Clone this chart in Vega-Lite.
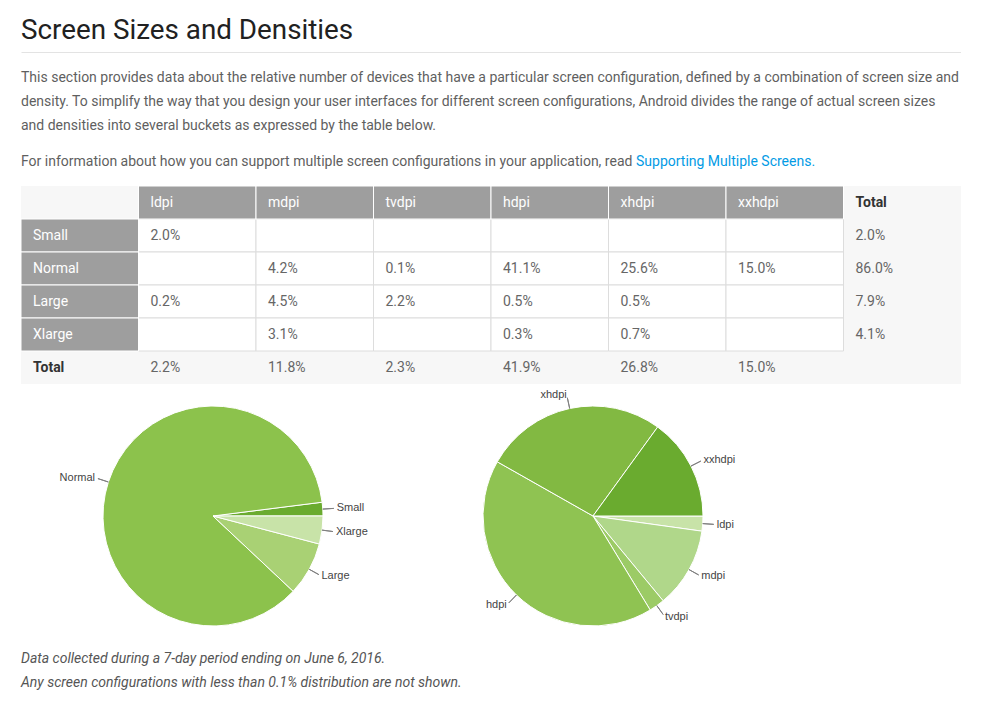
{
  "$schema": "https://vega.github.io/schema/vega-lite/v6.json",
  "background": "white",
  "padding": {"left": 20, "top": 0, "right": 0, "bottom": 0},
  "spacing": 0,
  "config": {"view": {"stroke": null}, "font": "Roboto"},
  "datasets": {
    "intro": [
      {"line": 1, "text": "This section provides data about the relative number of devices that have a particular screen configuration, defined by a combination of screen size and"},
      {"line": 2, "text": "density. To simplify the way that you design your user interfaces for different screen configurations, Android divides the range of actual screen sizes"},
      {"line": 3, "text": "and densities into several buckets as expressed by the table below."}
    ],
    "cells": [
      {"size": "Small", "density": "ldpi", "share": 0.020},
      {"size": "Small", "density": "mdpi", "share": null},
      {"size": "Small", "density": "tvdpi", "share": null},
      {"size": "Small", "density": "hdpi", "share": null},
      {"size": "Small", "density": "xhdpi", "share": null},
      {"size": "Small", "density": "xxhdpi", "share": null},
      {"size": "Normal", "density": "ldpi", "share": null},
      {"size": "Normal", "density": "mdpi", "share": 0.042},
      {"size": "Normal", "density": "tvdpi", "share": 0.001},
      {"size": "Normal", "density": "hdpi", "share": 0.411},
      {"size": "Normal", "density": "xhdpi", "share": 0.256},
      {"size": "Normal", "density": "xxhdpi", "share": 0.150},
      {"size": "Large", "density": "ldpi", "share": 0.002},
      {"size": "Large", "density": "mdpi", "share": 0.045},
      {"size": "Large", "density": "tvdpi", "share": 0.022},
      {"size": "Large", "density": "hdpi", "share": 0.005},
      {"size": "Large", "density": "xhdpi", "share": 0.005},
      {"size": "Large", "density": "xxhdpi", "share": null},
      {"size": "Xlarge", "density": "ldpi", "share": null},
      {"size": "Xlarge", "density": "mdpi", "share": 0.031},
      {"size": "Xlarge", "density": "tvdpi", "share": null},
      {"size": "Xlarge", "density": "hdpi", "share": 0.003},
      {"size": "Xlarge", "density": "xhdpi", "share": 0.007},
      {"size": "Xlarge", "density": "xxhdpi", "share": null}
    ],
    "sizeTotals": [
      {"size": "Small", "share": 0.020},
      {"size": "Normal", "share": 0.860},
      {"size": "Large", "share": 0.079},
      {"size": "Xlarge", "share": 0.041}
    ],
    "densityTotals": [
      {"density": "ldpi", "share": 0.022},
      {"density": "mdpi", "share": 0.118},
      {"density": "tvdpi", "share": 0.023},
      {"density": "hdpi", "share": 0.419},
      {"density": "xhdpi", "share": 0.268},
      {"density": "xxhdpi", "share": 0.150}
    ],
    "notes": [
      {"line": 1, "text": "Data collected during a 7-day period ending on June 6, 2016."},
      {"line": 2, "text": "Any screen configurations with less than 0.1% distribution are not shown."}
    ]
  },
  "vconcat": [
    {
      "width": 940,
      "height": 52,
      "data": {"values": [{"heading": "Screen Sizes and Densities"}]},
      "mark": {"type": "text", "align": "left", "baseline": "alphabetic", "dy": 13, "fontSize": 27.8, "fontWeight": 400, "color": "#212121"},
      "encoding": {
        "x": {"datum": 0, "type": "quantitative", "scale": {"domain": [0, 1]}, "axis": {"orient": "bottom", "domain": true, "domainColor": "#e3e3e3", "ticks": false, "labels": false, "grid": false, "title": null}},
        "text": {"field": "heading"}
      }
    },
    {
      "width": 940,
      "height": 87,
      "data": {"name": "intro"},
      "mark": {"type": "text", "align": "left", "baseline": "alphabetic", "fontSize": 14, "color": "#5f5f5f"},
      "encoding": {
        "x": {"value": 0},
        "y": {"field": "line", "type": "ordinal", "axis": null, "scale": {"type": "point", "padding": 0, "range": [30, 78]}},
        "text": {"field": "text"}
      }
    },
    {
      "width": 940,
      "height": 46,
      "data": {"values": [{"text": "For information about how you can support multiple screen configurations in your application, read", "link": "Supporting Multiple Screens."}]},
      "layer": [
        {
          "mark": {"type": "text", "align": "left", "baseline": "alphabetic", "dy": 4, "fontSize": 14, "color": "#5f5f5f"},
          "encoding": {"x": {"value": 0}, "text": {"field": "text"}}
        },
        {
          "mark": {"type": "text", "align": "left", "baseline": "alphabetic", "dy": 4, "dx": 615, "fontSize": 14, "color": "#039be5"},
          "encoding": {"x": {"value": 0}, "text": {"field": "link"}}
        }
      ]
    },
    {
      "width": 940,
      "height": 198,
      "view": {"fill": "#f7f7f7"},
      "layer": [
        {
          "data": {"name": "cells"},
          "mark": {"type": "rect", "fill": "white", "stroke": "#dddddd", "strokeWidth": 1},
          "encoding": {
            "x": {"field": "density", "type": "nominal", "axis": null, "scale": {"type": "band", "domain": ["_size", "ldpi", "mdpi", "tvdpi", "hdpi", "xhdpi", "xxhdpi", "Total"], "paddingInner": 0, "paddingOuter": 0}},
            "y": {"field": "size", "type": "nominal", "axis": null, "scale": {"type": "band", "domain": ["_head", "Small", "Normal", "Large", "Xlarge", "Total"], "paddingInner": 0, "paddingOuter": 0}}
          }
        },
        {
          "data": {"name": "densityTotals"},
          "mark": {"type": "rect", "fill": "#9e9e9e", "stroke": "white", "strokeWidth": 1},
          "encoding": {
            "x": {"field": "density", "type": "nominal", "axis": null, "scale": {"type": "band", "domain": ["_size", "ldpi", "mdpi", "tvdpi", "hdpi", "xhdpi", "xxhdpi", "Total"], "paddingInner": 0, "paddingOuter": 0}},
            "y": {"datum": "_head", "type": "nominal", "axis": null, "scale": {"type": "band", "domain": ["_head", "Small", "Normal", "Large", "Xlarge", "Total"], "paddingInner": 0, "paddingOuter": 0}}
          }
        },
        {
          "data": {"name": "sizeTotals"},
          "mark": {"type": "rect", "fill": "#9e9e9e", "stroke": "white", "strokeWidth": 1},
          "encoding": {
            "x": {"datum": "_size", "type": "nominal", "axis": null, "scale": {"type": "band", "domain": ["_size", "ldpi", "mdpi", "tvdpi", "hdpi", "xhdpi", "xxhdpi", "Total"], "paddingInner": 0, "paddingOuter": 0}},
            "y": {"field": "size", "type": "nominal", "axis": null, "scale": {"type": "band", "domain": ["_head", "Small", "Normal", "Large", "Xlarge", "Total"], "paddingInner": 0, "paddingOuter": 0}}
          }
        },
        {
          "data": {"name": "densityTotals"},
          "mark": {"type": "text", "align": "left", "baseline": "middle", "dx": 12, "fontSize": 14, "color": "white"},
          "encoding": {
            "x": {"field": "density", "type": "nominal", "bandPosition": 0, "axis": null, "scale": {"type": "band", "domain": ["_size", "ldpi", "mdpi", "tvdpi", "hdpi", "xhdpi", "xxhdpi", "Total"], "paddingInner": 0, "paddingOuter": 0}},
            "y": {"datum": "_head", "type": "nominal", "axis": null, "scale": {"type": "band", "domain": ["_head", "Small", "Normal", "Large", "Xlarge", "Total"], "paddingInner": 0, "paddingOuter": 0}},
            "text": {"field": "density"}
          }
        },
        {
          "data": {"name": "sizeTotals"},
          "mark": {"type": "text", "align": "left", "baseline": "middle", "dx": 12, "fontSize": 14, "color": "white"},
          "encoding": {
            "x": {"datum": "_size", "type": "nominal", "bandPosition": 0, "axis": null, "scale": {"type": "band", "domain": ["_size", "ldpi", "mdpi", "tvdpi", "hdpi", "xhdpi", "xxhdpi", "Total"], "paddingInner": 0, "paddingOuter": 0}},
            "y": {"field": "size", "type": "nominal", "axis": null, "scale": {"type": "band", "domain": ["_head", "Small", "Normal", "Large", "Xlarge", "Total"], "paddingInner": 0, "paddingOuter": 0}},
            "text": {"field": "size"}
          }
        },
        {
          "data": {"name": "cells"},
          "transform": [{"filter": "isValid(datum.share)"}],
          "mark": {"type": "text", "align": "left", "baseline": "middle", "dx": 12, "fontSize": 14, "color": "#666666"},
          "encoding": {
            "x": {"field": "density", "type": "nominal", "bandPosition": 0, "axis": null, "scale": {"type": "band", "domain": ["_size", "ldpi", "mdpi", "tvdpi", "hdpi", "xhdpi", "xxhdpi", "Total"], "paddingInner": 0, "paddingOuter": 0}},
            "y": {"field": "size", "type": "nominal", "axis": null, "scale": {"type": "band", "domain": ["_head", "Small", "Normal", "Large", "Xlarge", "Total"], "paddingInner": 0, "paddingOuter": 0}},
            "text": {"field": "share", "type": "quantitative", "format": ".1%"}
          }
        },
        {
          "data": {"name": "sizeTotals"},
          "mark": {"type": "text", "align": "left", "baseline": "middle", "dx": 12, "fontSize": 14, "color": "#666666"},
          "encoding": {
            "x": {"datum": "Total", "type": "nominal", "bandPosition": 0, "axis": null, "scale": {"type": "band", "domain": ["_size", "ldpi", "mdpi", "tvdpi", "hdpi", "xhdpi", "xxhdpi", "Total"], "paddingInner": 0, "paddingOuter": 0}},
            "y": {"field": "size", "type": "nominal", "axis": null, "scale": {"type": "band", "domain": ["_head", "Small", "Normal", "Large", "Xlarge", "Total"], "paddingInner": 0, "paddingOuter": 0}},
            "text": {"field": "share", "type": "quantitative", "format": ".1%"}
          }
        },
        {
          "data": {"name": "densityTotals"},
          "mark": {"type": "text", "align": "left", "baseline": "middle", "dx": 12, "fontSize": 14, "color": "#666666"},
          "encoding": {
            "x": {"field": "density", "type": "nominal", "bandPosition": 0, "axis": null, "scale": {"type": "band", "domain": ["_size", "ldpi", "mdpi", "tvdpi", "hdpi", "xhdpi", "xxhdpi", "Total"], "paddingInner": 0, "paddingOuter": 0}},
            "y": {"datum": "Total", "type": "nominal", "axis": null, "scale": {"type": "band", "domain": ["_head", "Small", "Normal", "Large", "Xlarge", "Total"], "paddingInner": 0, "paddingOuter": 0}},
            "text": {"field": "share", "type": "quantitative", "format": ".1%"}
          }
        },
        {
          "data": {"values": [{"label": "Total"}]},
          "mark": {"type": "text", "align": "left", "baseline": "middle", "dx": 12, "fontSize": 14, "fontWeight": "bold", "color": "#333333"},
          "encoding": {
            "x": {"datum": "Total", "type": "nominal", "bandPosition": 0, "axis": null, "scale": {"type": "band", "domain": ["_size", "ldpi", "mdpi", "tvdpi", "hdpi", "xhdpi", "xxhdpi", "Total"], "paddingInner": 0, "paddingOuter": 0}},
            "y": {"datum": "_head", "type": "nominal", "axis": null, "scale": {"type": "band", "domain": ["_head", "Small", "Normal", "Large", "Xlarge", "Total"], "paddingInner": 0, "paddingOuter": 0}},
            "text": {"field": "label"}
          }
        },
        {
          "data": {"values": [{"label": "Total"}]},
          "mark": {"type": "text", "align": "left", "baseline": "middle", "dx": 12, "fontSize": 14, "fontWeight": "bold", "color": "#333333"},
          "encoding": {
            "x": {"datum": "_size", "type": "nominal", "bandPosition": 0, "axis": null, "scale": {"type": "band", "domain": ["_size", "ldpi", "mdpi", "tvdpi", "hdpi", "xhdpi", "xxhdpi", "Total"], "paddingInner": 0, "paddingOuter": 0}},
            "y": {"datum": "Total", "type": "nominal", "axis": null, "scale": {"type": "band", "domain": ["_head", "Small", "Normal", "Large", "Xlarge", "Total"], "paddingInner": 0, "paddingOuter": 0}},
            "text": {"field": "label"}
          }
        }
      ]
    },
    {
      "spacing": 0,
      "resolve": {"scale": {"theta": "independent", "color": "independent"}},
      "hconcat": [
        {
          "width": 384,
          "height": 264,
          "data": {"name": "sizeTotals"},
          "transform": [{"stack": "share", "groupby": [], "as": ["s0", "s1"]}],
          "layer": [
            {
              "mark": {"type": "arc", "outerRadius": 110, "stroke": "white", "strokeWidth": 1},
              "encoding": {
                "theta": {"field": "s0", "type": "quantitative", "stack": null, "scale": {"domain": [0, 1], "range": [1.5708, -4.7124]}},
                "theta2": {"field": "s1"},
                "color": {"field": "size", "type": "nominal", "legend": null, "scale": {"domain": ["Small", "Normal", "Large", "Xlarge"], "range": ["#6aab2f", "#8cc24c", "#a9d174", "#c8e3a8"]}}
              }
            },
            {
              "transform": [{"fold": ["s0", "s1"], "as": ["edge", "angle"]}, {"aggregate": [{"op": "mean", "field": "angle", "as": "mid"}], "groupby": ["size"]}],
              "mark": {"type": "arc", "innerRadius": 110, "outerRadius": 121, "filled": false, "stroke": "#808080", "strokeWidth": 1},
              "encoding": {
                "theta": {"field": "mid", "type": "quantitative", "stack": null},
                "theta2": {"field": "mid"}
              }
            },
            {
              "transform": [{"fold": ["s0", "s1"], "as": ["edge", "angle"]}, {"aggregate": [{"op": "mean", "field": "angle", "as": "mid"}], "groupby": ["size"]}, {"filter": "datum.mid > 0.25 && datum.mid < 0.75"}],
              "mark": {"type": "text", "radius": 124, "align": "right", "baseline": "middle", "font": "Liberation Sans", "fontSize": 11, "color": "#444444"},
              "encoding": {
                "theta": {"field": "mid", "type": "quantitative", "stack": null},
                "text": {"field": "size"}
              }
            },
            {
              "transform": [{"fold": ["s0", "s1"], "as": ["edge", "angle"]}, {"aggregate": [{"op": "mean", "field": "angle", "as": "mid"}], "groupby": ["size"]}, {"filter": "datum.mid <= 0.25 || datum.mid >= 0.75"}],
              "mark": {"type": "text", "radius": 124, "align": "left", "baseline": "middle", "font": "Liberation Sans", "fontSize": 11, "color": "#444444"},
              "encoding": {
                "theta": {"field": "mid", "type": "quantitative", "stack": null},
                "text": {"field": "size"}
              }
            }
          ]
        },
        {
          "width": 376,
          "height": 264,
          "data": {"name": "densityTotals"},
          "transform": [{"stack": "share", "groupby": [], "as": ["s0", "s1"]}],
          "layer": [
            {
              "mark": {"type": "arc", "outerRadius": 110, "stroke": "white", "strokeWidth": 1},
              "encoding": {
                "theta": {"field": "s0", "type": "quantitative", "stack": null, "scale": {"domain": [0, 1], "range": [1.5708, 7.854]}},
                "theta2": {"field": "s1"},
                "color": {"field": "density", "type": "nominal", "legend": null, "scale": {"domain": ["ldpi", "mdpi", "tvdpi", "hdpi", "xhdpi", "xxhdpi"], "range": ["#c8e3a8", "#b0d78a", "#9ccb66", "#8fc352", "#82b942", "#6aab2f"]}}
              }
            },
            {
              "transform": [{"fold": ["s0", "s1"], "as": ["edge", "angle"]}, {"aggregate": [{"op": "mean", "field": "angle", "as": "mid"}], "groupby": ["density"]}],
              "mark": {"type": "arc", "innerRadius": 110, "outerRadius": 121, "filled": false, "stroke": "#808080", "strokeWidth": 1},
              "encoding": {
                "theta": {"field": "mid", "type": "quantitative", "stack": null},
                "theta2": {"field": "mid"}
              }
            },
            {
              "transform": [{"fold": ["s0", "s1"], "as": ["edge", "angle"]}, {"aggregate": [{"op": "mean", "field": "angle", "as": "mid"}], "groupby": ["density"]}, {"filter": "datum.mid > 0.25 && datum.mid < 0.75"}],
              "mark": {"type": "text", "radius": 124, "align": "right", "baseline": "middle", "font": "Liberation Sans", "fontSize": 11, "color": "#444444"},
              "encoding": {
                "theta": {"field": "mid", "type": "quantitative", "stack": null},
                "text": {"field": "density"}
              }
            },
            {
              "transform": [{"fold": ["s0", "s1"], "as": ["edge", "angle"]}, {"aggregate": [{"op": "mean", "field": "angle", "as": "mid"}], "groupby": ["density"]}, {"filter": "datum.mid <= 0.25 || datum.mid >= 0.75"}],
              "mark": {"type": "text", "radius": 124, "align": "left", "baseline": "middle", "font": "Liberation Sans", "fontSize": 11, "color": "#444444"},
              "encoding": {
                "theta": {"field": "mid", "type": "quantitative", "stack": null},
                "text": {"field": "density"}
              }
            }
          ]
        }
      ]
    },
    {
      "width": 940,
      "height": 58,
      "data": {"name": "notes"},
      "mark": {"type": "text", "align": "left", "baseline": "alphabetic", "fontSize": 14, "fontStyle": "italic", "color": "#555555"},
      "encoding": {
        "x": {"value": 0},
        "y": {"field": "line", "type": "ordinal", "axis": null, "scale": {"type": "point", "padding": 0, "range": [15, 39]}},
        "text": {"field": "text"}
      }
    }
  ]
}
